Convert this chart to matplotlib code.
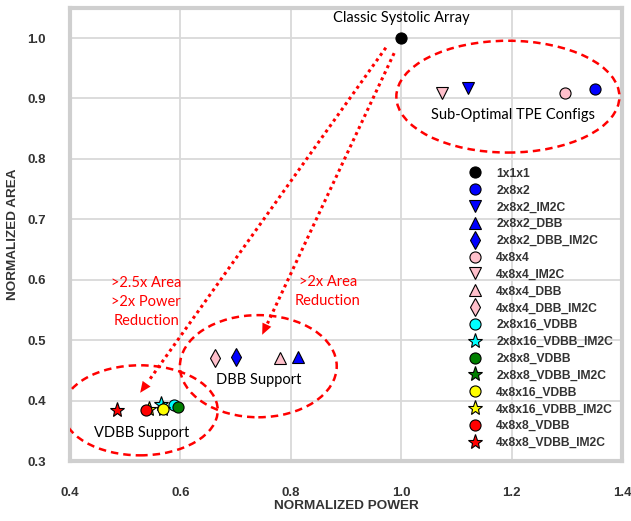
import matplotlib
matplotlib.use("Agg")
import matplotlib.pyplot as plt
from matplotlib.patches import Ellipse
from matplotlib.lines import Line2D

labels = ["1x1x1", "2x8x2", "2x8x2_IM2C", "2x8x2_DBB", "2x8x2_DBB_IM2C",
          "4x8x4", "4x8x4_IM2C", "4x8x4_DBB", "4x8x4_DBB_IM2C",
          "2x8x16_VDBB", "2x8x16_VDBB_IM2C", "2x8x8_VDBB", "2x8x8_VDBB_IM2C",
          "4x8x16_VDBB", "4x8x16_VDBB_IM2C", "4x8x8_VDBB", "4x8x8_VDBB_IM2C"]
power = [1.0, 1.351, 1.121, 0.813, 0.700,
         1.297, 1.074, 0.781, 0.663,
         0.588, 0.565, 0.596, 0.568,
         0.569, 0.543, 0.538, 0.485]
area = [1.0, 0.916, 0.918, 0.472, 0.472,
        0.909, 0.909, 0.471, 0.471,
        0.393, 0.394, 0.390, 0.387,
        0.387, 0.386, 0.384, 0.384]
colors = ["black", "blue", "blue", "blue", "blue",
          "pink", "pink", "pink", "pink",
          "cyan", "cyan", "green", "green",
          "yellow", "yellow", "red", "red"]
markers = ["o", "o", "v", "^", "d",
           "o", "v", "^", "d",
           "o", "*", "o", "*",
           "o", "*", "o", "*"]

x_ticks = [0.4, 0.6, 0.8, 1.0, 1.2, 1.4]
y_ticks = [0.3, 0.4, 0.5, 0.6, 0.7, 0.8, 0.9, 1.0]

fig = plt.figure(figsize=(6.31, 5.21), dpi=100)
ax = fig.add_axes([0.111, 0.115, 0.875, 0.870])
ax.set_xlim(0.4, 1.4)
ax.set_ylim(0.3, 1.05)

ax.grid(True, color="#d9d9d9", lw=1.3, zorder=0)
ax.set_axisbelow(True)
for s in ax.spines.values():
    s.set_color("#cfcfcf")
    s.set_linewidth(3)

ax.set_xticks(x_ticks)
ax.set_yticks(y_ticks)
ax.set_xticklabels([f"{v:.1f}" for v in x_ticks])
ax.set_yticklabels([f"{v:.1f}" for v in y_ticks])
ax.tick_params(axis="both", which="both", direction="out", length=1.5, width=1.5,
               color="#333333", top=True, right=True, labelsize=9.5,
               labelcolor="#333333")
ax.tick_params(axis="x", pad=17)
ax.tick_params(axis="y", pad=16)
for lab in ax.get_xticklabels() + ax.get_yticklabels():
    lab.set_fontweight("bold")
    lab.set_fontfamily("Liberation Sans")

ax.set_xlabel("NORMALIZED POWER", fontsize=9.7, color="#333333",
              family="Liberation Sans", fontweight="bold", labelpad=1)
ax.set_ylabel("NORMALIZED AREA", fontsize=9.7, color="#333333",
              family="Liberation Sans", fontweight="bold", labelpad=6)

handles = []
for p, a, c, m, l in zip(power, area, colors, markers, labels):
    ms = 11 if m == "*" else 8
    if m == "d":
        ms = 9
    ax.plot([p], [a], marker=m, color=c, markeredgecolor="black",
            markeredgewidth=0.8, markersize=ms, linestyle="none", zorder=5)
    handles.append(Line2D([], [], marker=m, color=c, markeredgecolor="black",
                          markeredgewidth=0.8, markersize=ms, linestyle="none",
                          label=l))

leg = ax.legend(handles=handles, loc="lower left", bbox_to_anchor=(0.69, 0.0),
                frameon=False, labelspacing=0.40, handletextpad=0.75,
                borderaxespad=0.6,
                prop={"family": "Liberation Sans", "weight": "bold", "size": 8.7})
for t in leg.get_texts():
    t.set_color("#333333")

# Ellipses
ell_kw = dict(fill=False, edgecolor="red", linestyle=(0, (3, 2)), lw=1.8, zorder=4)
ax.add_patch(Ellipse((1.193, 0.903), 0.404, 0.185, **ell_kw))
ax.add_patch(Ellipse((0.741, 0.457), 0.284, 0.169, **ell_kw))
ax.add_patch(Ellipse((0.527, 0.384), 0.281, 0.149, **ell_kw))

# Arrows
arrows = [((0.972, 0.984), (0.527, 0.413)), ((0.987, 0.975), (0.748, 0.509))]
for (x0, y0), (x1, y1) in arrows:
    fx = x0 + (x1 - x0) * 0.96
    fy = y0 + (y1 - y0) * 0.96
    ax.plot([x0, fx], [y0, fy], color="red", lw=2.2, linestyle=(0, (1, 1.2)),
            zorder=4)
    ax.annotate("", xy=(x1, y1), xytext=(fx, fy),
                arrowprops=dict(arrowstyle="-|>,head_length=0.8,head_width=0.35",
                                color="red", lw=0, shrinkA=0, shrinkB=0),
                zorder=4)

tfont = dict(family="Lato", fontsize=10.5)
ax.text(1.0, 1.033, "Classic Systolic Array", ha="center", va="center",
        color="black", **tfont)
ax.text(1.203, 0.873, "Sub-Optimal TPE Configs", ha="center", va="center",
        color="black", **tfont)
ax.text(0.741, 0.434, "DBB Support", ha="center", va="center", color="black",
        **tfont)
ax.text(0.530, 0.346, "VDBB Support", ha="center", va="center", color="black",
        **tfont)
ax.text(0.538, 0.563, ">2.5x Area\n>2x Power\nReduction", ha="center",
        va="center", color="red", linespacing=1.45, **tfont)
ax.text(0.867, 0.580, ">2x Area\nReduction", ha="center", va="center",
        color="red", linespacing=1.45, **tfont)

fig.savefig("out.png", dpi=100)
